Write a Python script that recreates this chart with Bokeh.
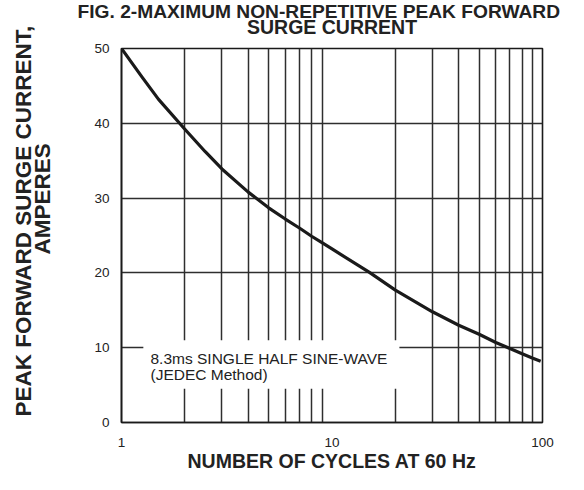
import numpy as np
from bokeh.plotting import figure
from bokeh.models import Range1d, FixedTicker, Label, Title
from bokeh.embed import file_html
from bokeh.resources import INLINE

# ---- data ----
cycles = [1, 1.25, 1.5, 2, 2.5, 3, 4, 5, 6, 7, 8, 9, 10, 15, 20, 30, 40, 50, 60, 70, 80, 90, 98]
current = [50, 46.2, 43.2, 39.2, 36.2, 33.9, 30.8, 28.7, 27.2, 26.0, 24.9, 24.0, 23.2,
           20.1, 17.7, 14.8, 13.0, 11.8, 10.7, 9.9, 9.2, 8.6, 8.2]
x_ticks = [1, 10, 100]
x_tick_labels = {1: "1", 10: "10", 100: "100"}
y_ticks = [0, 10, 20, 30, 40, 50]
x_grid = [2, 3, 4, 5, 6, 7, 8, 9, 20, 30, 40, 50, 60, 70, 80, 90]
y_grid = [10, 20, 30, 40]

title1 = "FIG. 2-MAXIMUM NON-REPETITIVE PEAK FORWARD"
title2 = "SURGE CURRENT"
ylabel1 = "PEAK  FORWARD SURGE CURRENT,"
ylabel2 = "AMPERES"
xlabel = "NUMBER OF CYCLES AT 60 Hz"
note1 = "8.3ms SINGLE HALF SINE-WAVE"
note2 = "(JEDEC Method)"

FONT = "Liberation Sans"
INK = "#1a1a1a"

p = figure(width=568, height=474, x_axis_type="log", title=None,
           x_range=Range1d(1, 100), y_range=Range1d(0, 50),
           output_backend="svg", toolbar_location=None,
           min_border_left=121, min_border_right=26,
           min_border_top=48, min_border_bottom=48)

p.background_fill_color = "white"
p.border_fill_color = "white"
p.outline_line_color = INK
p.outline_line_width = 1.6

# axes
p.xaxis.ticker = FixedTicker(ticks=x_ticks, minor_ticks=[])
p.xaxis.major_label_overrides = x_tick_labels
p.yaxis.ticker = FixedTicker(ticks=y_ticks, minor_ticks=[])
for ax in (p.xaxis[0], p.yaxis[0]):
    ax.major_tick_line_color = None
    ax.minor_tick_line_color = None
    ax.axis_line_color = INK
    ax.axis_line_width = 1.6
    ax.major_label_text_font = FONT
    ax.major_label_text_font_size = "13.5px"
    ax.major_label_text_color = "#222222"
p.xaxis.major_label_standoff = 9
p.yaxis.major_label_standoff = 6

p.xaxis.axis_label = xlabel
p.xaxis.axis_label_text_font = FONT
p.xaxis.axis_label_text_font_style = "bold"
p.xaxis.axis_label_text_font_size = "19.5px"
p.xaxis.axis_label_text_color = "#222222"
p.xaxis.axis_label_standoff = 0

# grid
p.xgrid.ticker = FixedTicker(ticks=x_grid, minor_ticks=[])
p.ygrid.ticker = FixedTicker(ticks=y_grid, minor_ticks=[])
p.xgrid.grid_line_color = "#2e2e2e"
p.ygrid.grid_line_color = "#2e2e2e"
p.xgrid.grid_line_width = 1.5
p.ygrid.grid_line_width = 1.5

# white box behind the note (interrupts the grid lines)
p.quad(left=[1.27], right=[20.9], bottom=[4.5], top=[11.0],
       fill_color="white", line_color=None)

# curve
p.line(cycles, current, line_color=INK, line_width=3.2, line_join="round")

# note text
for txt, yy in ((note1, 8.6), (note2, 6.48)):
    p.add_layout(Label(x=1.373, y=yy, text=txt, text_font=FONT,
                       text_font_size="15.5px", text_color="#222222",
                       text_baseline="alphabetic"))

def bold_title(text, **kw):
    return Title(text=text, text_font=FONT, text_font_style="bold",
                 text_color="#222222", **kw)

# titles above (first added = closest to the frame)
p.add_layout(Title(text=" ", text_font_size="1px", standoff=8), "above")
p.add_layout(bold_title(title2, text_font_size="19.5px", align="center",
                        standoff=0), "above")
p.add_layout(bold_title(title1, text_font_size="19.2px", align="left",
                        offset=-44, standoff=-17), "above")

# y label lines on the left
p.add_layout(Title(text=" ", text_font_size="1px", standoff=34), "left")
p.add_layout(bold_title(ylabel2, text_font_size="22.5px", align="left",
                        offset=168, standoff=0), "left")
p.add_layout(bold_title(ylabel1, text_font_size="22.5px", align="left",
                        offset=6, standoff=-16), "left")

open("out.html", "w").write(file_html(p, INLINE))
